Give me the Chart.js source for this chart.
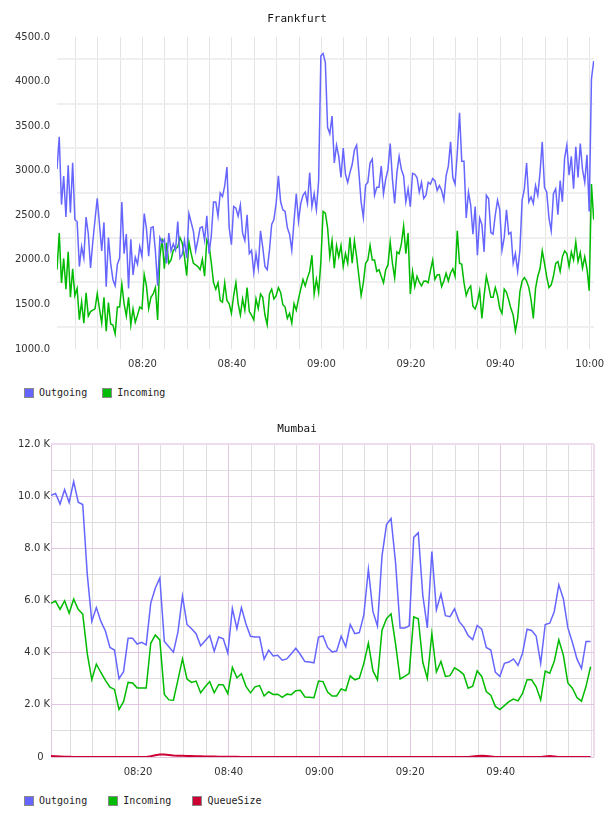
<!DOCTYPE html>
<html>
<head>
<meta charset="utf-8">
<title>Frankfurt / Mumbai</title>
<script src="https://cdn.jsdelivr.net/npm/chart.js@4.4.1/dist/chart.umd.min.js"></script>
<style>
body{margin:0;background:#fff;width:608px;height:816px;position:relative;overflow:hidden;}
.box{position:absolute;left:0;width:608px;height:379px;}
.legend{position:absolute;left:24px;display:inline-grid;grid-auto-flow:column;grid-auto-columns:1fr;column-gap:15px;font:10px "DejaVu Sans Mono",monospace;color:#222;}
.legend span{display:flex;align-items:center;white-space:nowrap;height:10px;line-height:10px;}
.legend i{display:inline-block;width:8px;height:8px;border:1px solid #8a8a8a;margin-right:5px;}
</style>
</head>
<body>

<div class="box" style="top:0"><canvas id="frankfurt" width="608" height="379"></canvas></div>
<div class="legend" id="frankfurtLegend" style="top:388px"></div>

<div class="box" style="top:408px"><canvas id="mumbai" width="608" height="379"></canvas></div>
<div class="legend" id="mumbaiLegend" style="top:796px"></div>

<script>

// ===== Data =====

// x values are minutes after 08:00
const frankfurtStart = 0.88;
const frankfurtStep = 0.5;

const frankfurtOutgoing = [
3020,3380,2620,2940,2480,3060,2530,3090,2450,2430,
1925,2150,2020,2480,2290,1910,2200,2450,2690,2400,
2100,2420,1700,2250,1960,1780,1710,1950,2020,2650,
2070,2290,1680,2230,1830,2030,1950,2150,2040,2520,
2350,2040,2360,2370,2100,1710,2250,2190,2230,1960,
2300,2100,2180,2110,2430,2020,2060,2220,2020,2520,
2420,2320,2100,2220,2360,2370,2220,2495,2070,2270,
2650,2650,2490,2750,2710,2830,3040,2360,2170,2600,
2580,2490,2615,2300,2216,2506,2070,2107,1860,2070,
1907,2325,2143,1925,1889,2107,2397,2452,2633,2942,
2651,2561,2543,2361,2288,2107,2434,2742,2434,2633,
2724,2760,2633,2978,2597,2742,2561,2888,4290,4315,
4213,3487,3414,3614,3087,3287,3160,2924,3254,2960,
2869,2978,3069,3232,3287,2978,2651,2477,2840,2869,
3087,3131,2724,2815,2815,3051,2742,2906,3015,3305,
2906,2633,2978,3160,3015,2942,2651,2797,2597,2970,
2960,2924,2760,2869,2688,2724,2869,2851,2913,2888,
2779,2833,2779,2670,2942,3051,3323,2924,2851,3196,
3650,3105,3105,2470,2760,2615,2288,2597,2052,2470,
2397,2089,2724,2688,2307,2288,2506,2670,2561,2107,
2252,2561,2288,2307,1962,2070,1871,2107,2670,2797,
3087,2651,2706,2633,2833,2724,2978,3323,2815,2760,
2470,2325,2742,2797,2506,2888,2651,3142,3287,2949,
3160,2797,3269,2924,3305,3015,2869,3178,2543,4031,
4231
];

const frankfurtIncoming = [
1890,2300,1740,2016,1670,2090,1580,1900,1600,1680,
1330,1530,1290,1630,1370,1420,1435,1450,1620,1450,
1290,1580,1200,1520,1280,1270,1170,1470,1470,1726,
1510,1370,1580,1270,1450,1300,1380,1470,1450,1835,
1707,1453,1580,1617,1689,1326,2034,2240,1900,2190,
1962,2000,2107,2125,2143,2250,2190,2034,1824,2198,
2070,1962,1943,1925,1889,2005,1816,2223,2161,1969,
1744,1671,1744,1544,1526,1744,1544,1508,1400,1600,
1744,1508,1381,1562,1435,1689,1420,1381,1326,1562,
1453,1617,1580,1381,1272,1617,1671,1562,1599,1689,
1635,1497,1471,1344,1399,1290,1508,1435,1562,1671,
1780,1707,1798,1871,2052,1617,1780,1635,1980,2543,
2524,2361,2034,2216,1907,2161,2034,2161,1925,2070,
1962,2252,1962,2216,2034,1816,1599,1744,1962,1998,
2161,1998,1998,1871,1889,1816,1744,1889,1943,2198,
1962,1798,2089,2070,2180,2379,2070,2300,1617,1871,
1700,1816,1750,1707,1760,1762,1744,1880,1998,1780,
1830,1835,1700,1762,1850,1762,1853,1900,1816,2325,
1962,1950,1744,1600,1671,1707,1480,1450,1526,1653,
1344,1600,1816,1707,1580,1580,1690,1600,1453,1400,
1671,1635,1550,1453,1381,1200,1344,1640,1762,1800,
1762,1689,1550,1344,1680,1816,1900,2100,1962,1810,
1689,1720,1816,1960,1980,1870,2034,2100,2070,1925,
2089,2000,2200,1980,2080,1907,2034,1900,1653,2851,
2452
];

const mumbaiStart = 0.8;
const mumbaiStep = 1;

const mumbaiOutgoing = [
10030,10100,9700,10250,9760,10560,9770,9680,7000,5200,
5730,5200,4830,4200,4100,3000,3270,4550,4550,4330,
4400,4300,5900,6470,6860,4430,4230,4020,4800,6170,
5080,4920,4730,4260,4460,4660,4060,4600,4530,3980,
5700,4920,5730,5100,4630,4600,4600,3750,4100,3870,
3900,3710,3760,3960,4170,3930,3660,3640,3610,4600,
4640,4200,4030,4060,4630,4230,5080,4730,4770,5450,
7200,5580,5020,7700,8910,9140,7440,4950,4950,5020,
8420,8600,6200,4950,7880,5640,6250,5420,5380,5680,
5200,4990,4660,4500,5040,4900,4200,4100,3250,3090,
3590,3640,3760,3510,3980,4900,4850,4640,3590,5080,
5130,5580,6600,6070,4950,4390,3760,3390,4430,4430
];

const mumbaiIncoming = [
5890,5980,5660,5990,5510,6050,5660,5480,3960,2960,
3560,3240,2940,2680,2590,1820,2120,2860,2840,2650,
2650,2650,4360,4680,4490,2400,2190,2180,2960,3760,
2990,2860,2910,2460,2690,2890,2460,2780,2760,2430,
3440,3040,3190,2710,2460,2690,2740,2340,2500,2400,
2410,2290,2410,2390,2540,2560,2300,2290,2270,2910,
2890,2490,2340,2340,2610,2540,3110,2960,3020,3590,
4360,3310,2960,4860,5300,5490,4330,2990,3090,3210,
5370,5300,3630,3010,4730,3260,3660,3090,3120,3420,
3310,3170,2640,2710,3300,3090,2510,2370,1940,1820,
1970,2120,2220,2150,2440,2960,2960,2690,2190,3290,
3210,3670,4490,3900,2840,2640,2280,2140,2710,3460
];

const mumbaiQueueSize = [
40,30,20,10,5,0,0,0,0,0,
0,0,0,0,0,0,0,0,0,0,
0,0,30,70,100,100,80,60,50,45,
40,35,30,25,20,20,15,10,10,5,
5,5,0,0,0,0,0,0,0,0,
0,0,0,0,0,0,0,0,0,0,
0,0,0,0,0,0,0,0,0,0,
0,0,0,0,0,0,0,0,0,0,
0,0,0,0,0,0,0,0,0,0,
0,0,0,20,40,50,40,20,0,0,
0,0,0,0,0,0,0,0,0,20,
40,20,0,0,0,0,0,0,0,0
];

// vertical grid lines, every 5 minutes
const gridMinutes = [5,10,15,20,25,30,35,40,45,50,55,60,65,70,75,80,85,90,95,100,105,110,115,120];

// tick labels
const frankfurtXTicks = [20, 40, 60, 80, 100, 120];
const frankfurtXLabels = ["08:20", "08:40", "09:00", "09:20", "09:40", "10:00"];
const frankfurtYTicks = [1000, 1500, 2000, 2500, 3000, 3500, 4000, 4500];
const frankfurtYLabels = ["1000.0", "1500.0", "2000.0", "2500.0", "3000.0", "3500.0", "4000.0", "4500.0"];

const mumbaiXTicks = [20, 40, 60, 80, 100];
const mumbaiXLabels = ["08:20", "08:40", "09:00", "09:20", "09:40"];
const mumbaiYTicks = [0, 2000, 4000, 6000, 8000, 10000, 12000];
const mumbaiYLabels = ["0  ", "2.0 K", "4.0 K", "6.0 K", "8.0 K", "10.0 K", "12.0 K"];

const colors = {
    Outgoing: "#6666ff",
    Incoming: "#00bb00",
    QueueSize: "#cc0033"
};


// ===== Helpers =====

function toPoints(values, start, step) {
    return values.map((v, i) => ({ x: start + i * step, y: v }));
}

function lookup(ticks, labels) {
    return (value) => {
        const idx = ticks.indexOf(value);
        return idx >= 0 ? labels[idx] : "";
    };
}

function line(label, values, start, step) {
    return {
        label: label,
        data: toPoints(values, start, step),
        borderColor: colors[label],
        backgroundColor: colors[label],
        borderWidth: 1.5,
        pointRadius: 0,
        tension: 0,
        fill: false
    };
}

function buildLegend(id, names) {
    const el = document.getElementById(id);
    names.forEach(name => {
        const item = document.createElement("span");
        const box = document.createElement("i");
        box.style.background = colors[name];
        item.appendChild(box);
        item.appendChild(document.createTextNode(name));
        el.appendChild(item);
    });
}

const tickFont = { family: "DejaVu Sans", size: 10 };
const titleFont = { family: "DejaVu Sans Mono", size: 11, weight: "normal" };


// ===== Frankfurt =====

new Chart(document.getElementById("frankfurt"), {
    type: "line",
    data: {
        datasets: [
            line("Outgoing", frankfurtOutgoing, frankfurtStart, frankfurtStep),
            line("Incoming", frankfurtIncoming, frankfurtStart, frankfurtStep)
        ]
    },
    options: {
        responsive: false,
        animation: false,
        events: [],
        layout: { padding: { left: 0, right: 14, top: 0, bottom: 0 } },
        plugins: {
            legend: { display: false },
            tooltip: { enabled: false },
            title: {
                display: true,
                text: "Frankfurt",
                color: "#111",
                font: titleFont,
                padding: { top: 13, bottom: 10.8 }
            }
        },
        scales: {
            x: {
                type: "linear",
                bounds: "data",
                min: 0.88,
                max: 120.95,
                border: { display: false },
                afterBuildTicks: (scale) => {
                    scale.ticks = gridMinutes.map(v => ({ value: v }));
                },
                // the 10:00 label may hang over the right edge
                afterFit: (scale) => { scale.paddingLeft = 0; scale.paddingRight = 0; },
                grid: { drawTicks: false, lineWidth: 1, color: "#e4e4e4" },
                ticks: {
                    autoSkip: false,
                    maxRotation: 0,
                    padding: 9,
                    color: "#333",
                    font: tickFont,
                    callback: lookup(frankfurtXTicks, frankfurtXLabels)
                }
            },
            y: {
                min: 1000,
                max: 4500,
                border: { display: false },
                grid: { offset: true, color: "#efefef", lineWidth: 2, drawTicks: false },
                ticks: {
                    stepSize: 500,
                    autoSkip: false,
                    padding: 7,
                    color: "#333",
                    font: tickFont,
                    callback: lookup(frankfurtYTicks, frankfurtYLabels)
                },
                afterFit: (scale) => { scale.width = 57; }
            }
        }
    }
});

buildLegend("frankfurtLegend", ["Outgoing", "Incoming"]);


// ===== Mumbai =====

const majorGrid = "#e0c6e0";
const minorGrid = "#dedede";
const edgeGrid = "#eedcee";

new Chart(document.getElementById("mumbai"), {
    type: "line",
    data: {
        datasets: [
            line("Outgoing", mumbaiOutgoing, mumbaiStart, mumbaiStep),
            line("Incoming", mumbaiIncoming, mumbaiStart, mumbaiStep),
            Object.assign(line("QueueSize", mumbaiQueueSize, mumbaiStart, mumbaiStep), { borderWidth: 2 })
        ]
    },
    options: {
        responsive: false,
        animation: false,
        events: [],
        layout: { padding: { left: 0, right: 14, top: 0, bottom: 0 } },
        plugins: {
            legend: { display: false },
            tooltip: { enabled: false },
            title: {
                display: true,
                text: "Mumbai",
                color: "#111",
                font: titleFont,
                padding: { top: 14.4, bottom: 8.4 }
            }
        },
        scales: {
            x: {
                type: "linear",
                bounds: "data",
                min: 0.8,
                max: 120.56,
                border: { display: false },
                afterBuildTicks: (scale) => {
                    // plot edges plus the 5 minute lines
                    const values = [scale.min].concat(gridMinutes, [scale.max]);
                    scale.ticks = values.map(v => ({ value: v }));
                },
                afterFit: (scale) => { scale.paddingLeft = 0; scale.paddingRight = 0; },
                grid: {
                    drawTicks: false,
                    color: (ctx) => {
                        const v = ctx.tick ? ctx.tick.value : 0;
                        if (v >= 120) return edgeGrid;
                        if (!Number.isInteger(v) || v % 20 === 0) return majorGrid;
                        return minorGrid;
                    },
                    lineWidth: (ctx) => (ctx.tick && ctx.tick.value > 120 ? 2 : 1)
                },
                ticks: {
                    autoSkip: false,
                    maxRotation: 0,
                    padding: 9,
                    color: "#333",
                    font: tickFont,
                    callback: lookup(mumbaiXTicks, mumbaiXLabels)
                }
            },
            y: {
                min: 0,
                max: 12000,
                border: { display: false },
                grid: {
                    drawTicks: false,
                    color: (ctx) => {
                        const v = ctx.tick ? ctx.tick.value : 0;
                        if (v === 12000) return edgeGrid;
                        return v % 2000 === 0 ? majorGrid : minorGrid;
                    },
                    lineWidth: (ctx) => (ctx.tick && ctx.tick.value === 12000 ? 2 : 1)
                },
                ticks: {
                    stepSize: 1000,
                    autoSkip: false,
                    padding: 1,
                    color: "#333",
                    font: tickFont,
                    callback: lookup(mumbaiYTicks, mumbaiYLabels)
                },
                afterFit: (scale) => { scale.width = 51; }
            }
        }
    }
});

buildLegend("mumbaiLegend", ["Outgoing", "Incoming", "QueueSize"]);

</script>
</body>
</html>
